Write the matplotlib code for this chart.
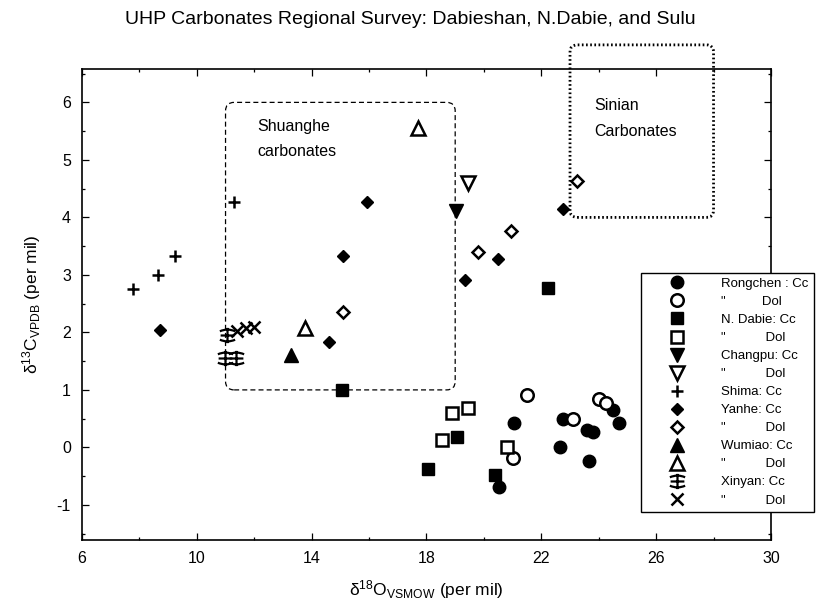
import numpy as np
import matplotlib
matplotlib.use('Agg')
import matplotlib.pyplot as plt
from matplotlib.path import Path
from matplotlib.patches import FancyBboxPatch
from matplotlib.ticker import MultipleLocator

plt.rcParams['font.family'] = ['Liberation Sans', 'DejaVu Sans']
plt.rcParams['mathtext.fontset'] = 'custom'
plt.rcParams['mathtext.rm'] = 'Liberation Sans'
plt.rcParams['mathtext.it'] = 'Liberation Sans:italic'
plt.rcParams['axes.unicode_minus'] = False

# d18O (x) and d13C (y) values
rong_cc_x = [21.06, 20.54, 22.77, 22.66, 23.59, 23.79, 23.67, 24.51, 24.72]
rong_cc_y = [0.42, -0.69, 0.50, 0.01, 0.31, 0.27, -0.23, 0.65, 0.42]
rong_dol_x = [21.49, 23.12, 24.02, 24.26, 21.01]
rong_dol_y = [0.91, 0.50, 0.85, 0.78, -0.19]

dabie_cc_x = [15.05, 22.23, 19.06, 18.07, 20.37]
dabie_cc_y = [1.00, 2.77, 0.18, -0.38, -0.48]
dabie_dol_x = [18.88, 19.46, 18.53, 20.82]
dabie_dol_y = [0.59, 0.68, 0.13, 0.01]

chang_cc_x = [19.03]
chang_cc_y = [4.11]
chang_dol_x = [19.46]
chang_dol_y = [4.60]

shima_cc_x = [7.77, 8.66, 9.24, 11.30]
shima_cc_y = [2.75, 3.00, 3.33, 4.27]

yanhe_cc_x = [8.72, 15.92, 15.10, 14.62, 19.34, 20.48, 22.77]
yanhe_cc_y = [2.04, 4.27, 3.33, 1.84, 2.91, 3.27, 4.14]
yanhe_dol_x = [15.10, 19.81, 20.95, 23.24]
yanhe_dol_y = [2.35, 3.40, 3.77, 4.64]

wumiao_cc_x = [13.28]
wumiao_cc_y = [1.61]
wumiao_dol_x = [17.72, 13.77]
wumiao_dol_y = [5.55, 2.07]

xinyan_cc_x = [11.04, 10.98, 11.35]
xinyan_cc_y = [1.95, 1.55, 1.55]
xinyan_dol_x = [11.40, 11.70, 11.98]
xinyan_dol_y = [2.03, 2.08, 2.10]

labels = ['Rongchen : Cc', '"          Dol', 'N. Dabie: Cc', '"           Dol',
          'Changpu: Cc', '"           Dol', 'Shima: Cc', 'Yanhe: Cc',
          '"           Dol', 'Wumiao: Cc', '"           Dol', 'Xinyan: Cc',
          '"           Dol']

# custom symbol for Xinyan Cc: stem, bar and two curved arms
xin_path = Path(
    [(0, -1), (0, 1),
     (-0.9, 0), (0.9, 0),
     (-1, 0.55), (0, 1.0), (1, 0.55),
     (-1, -0.55), (0, -1.0), (1, -0.55)],
    [Path.MOVETO, Path.LINETO,
     Path.MOVETO, Path.LINETO,
     Path.MOVETO, Path.CURVE3, Path.CURVE3,
     Path.MOVETO, Path.CURVE3, Path.CURVE3])

fig = plt.figure(figsize=(8.2, 6.07), dpi=100)
ax = fig.add_axes([0.1, 0.1104, 0.8402, 0.7754])

series = [
    (rong_cc_x, rong_cc_y, dict(marker='o', ms=9, mfc='k')),
    (rong_dol_x, rong_dol_y, dict(marker='o', ms=9, mfc='white', mew=1.8)),
    (dabie_cc_x, dabie_cc_y, dict(marker='s', ms=8.5, mfc='k')),
    (dabie_dol_x, dabie_dol_y, dict(marker='s', ms=8.5, mfc='white', mew=1.8)),
    (chang_cc_x, chang_cc_y, dict(marker='v', ms=10, mfc='k')),
    (chang_dol_x, chang_dol_y, dict(marker='v', ms=10, mfc='white', mew=1.8)),
    (shima_cc_x, shima_cc_y, dict(marker='+', ms=9, mew=1.8)),
    (yanhe_cc_x, yanhe_cc_y, dict(marker='D', ms=6, mfc='k')),
    (yanhe_dol_x, yanhe_dol_y, dict(marker='D', ms=6.5, mfc='white', mew=1.8)),
    (wumiao_cc_x, wumiao_cc_y, dict(marker='^', ms=10, mfc='k')),
    (wumiao_dol_x, wumiao_dol_y, dict(marker='^', ms=10, mfc='white', mew=1.8)),
    (xinyan_cc_x, xinyan_cc_y, dict(marker=xin_path, ms=11, mfc='none', mew=1.6)),
    (xinyan_dol_x, xinyan_dol_y, dict(marker='x', ms=8.5, mew=1.8)),
]

handles = []
for (xs, ys, st), lab in zip(series, labels):
    h, = ax.plot(xs, ys, linestyle='none', color='k', mec='k', label=lab, **st)
    handles.append(h)

# outlined fields
asp = 0.5
shuanghe = FancyBboxPatch((11, 1), 8, 5, boxstyle='round,pad=0,rounding_size=0.3',
                          mutation_aspect=asp, fill=False, ec='k', lw=0.9,
                          linestyle=(0, (4, 2.5)), zorder=1)
ax.add_patch(shuanghe)
sinian = FancyBboxPatch((23, 4), 5, 3, boxstyle='round,pad=0,rounding_size=0.25',
                        mutation_aspect=asp, fill=False, ec='k', lw=2.0,
                        linestyle=(0, (0.6, 0.9)), zorder=1, clip_on=False)
ax.add_patch(sinian)

ax.text(12.12, 5.58, 'Shuanghe', fontsize=11.5, va='center', ha='left')
ax.text(12.12, 5.14, 'carbonates', fontsize=11.5, va='center', ha='left')
ax.text(23.85, 5.94, 'Sinian', fontsize=11.5, va='center', ha='left')
ax.text(23.85, 5.50, 'Carbonates', fontsize=11.5, va='center', ha='left')

ax.set_xlim(6, 30)
ax.set_ylim(-1.61, 6.575)
ax.set_xticks([6, 10, 14, 18, 22, 26, 30])
ax.set_yticks(range(-1, 7))
ax.xaxis.set_minor_locator(MultipleLocator(2))
ax.yaxis.set_minor_locator(MultipleLocator(0.5))
ax.tick_params(which='both', direction='in', top=True, right=True, width=0.9)
ax.tick_params(which='major', length=5, labelsize=11.5, pad=8)
ax.tick_params(which='minor', length=2.5)
for sp in ax.spines.values():
    sp.set_linewidth(1.2)

ax.set_xlabel('δ$^{18}$O$_{\\mathrm{VSMOW}}$ (per mil)', fontsize=12.5, labelpad=9)
ax.set_ylabel('δ$^{13}$C$_{\\mathrm{VPDB}}$ (per mil)', fontsize=12.5, labelpad=10)

fig.suptitle('UHP Carbonates Regional Survey: Dabieshan, N.Dabie, and Sulu',
             fontsize=14, x=0.5, y=0.982, va='top')

leg = fig.legend(handles, labels, loc='upper left',
                 bbox_to_anchor=(641 / 820, 1 - 272.5 / 607),
                 bbox_transform=fig.transFigure, borderaxespad=0,
                 fontsize=9.5, numpoints=1, handlelength=4.7, handletextpad=1.0,
                 borderpad=0.4, labelspacing=0.44, fancybox=False,
                 framealpha=1, edgecolor='k')
leg.get_frame().set_linewidth(1.0)

fig.savefig('out.png', dpi=100)
